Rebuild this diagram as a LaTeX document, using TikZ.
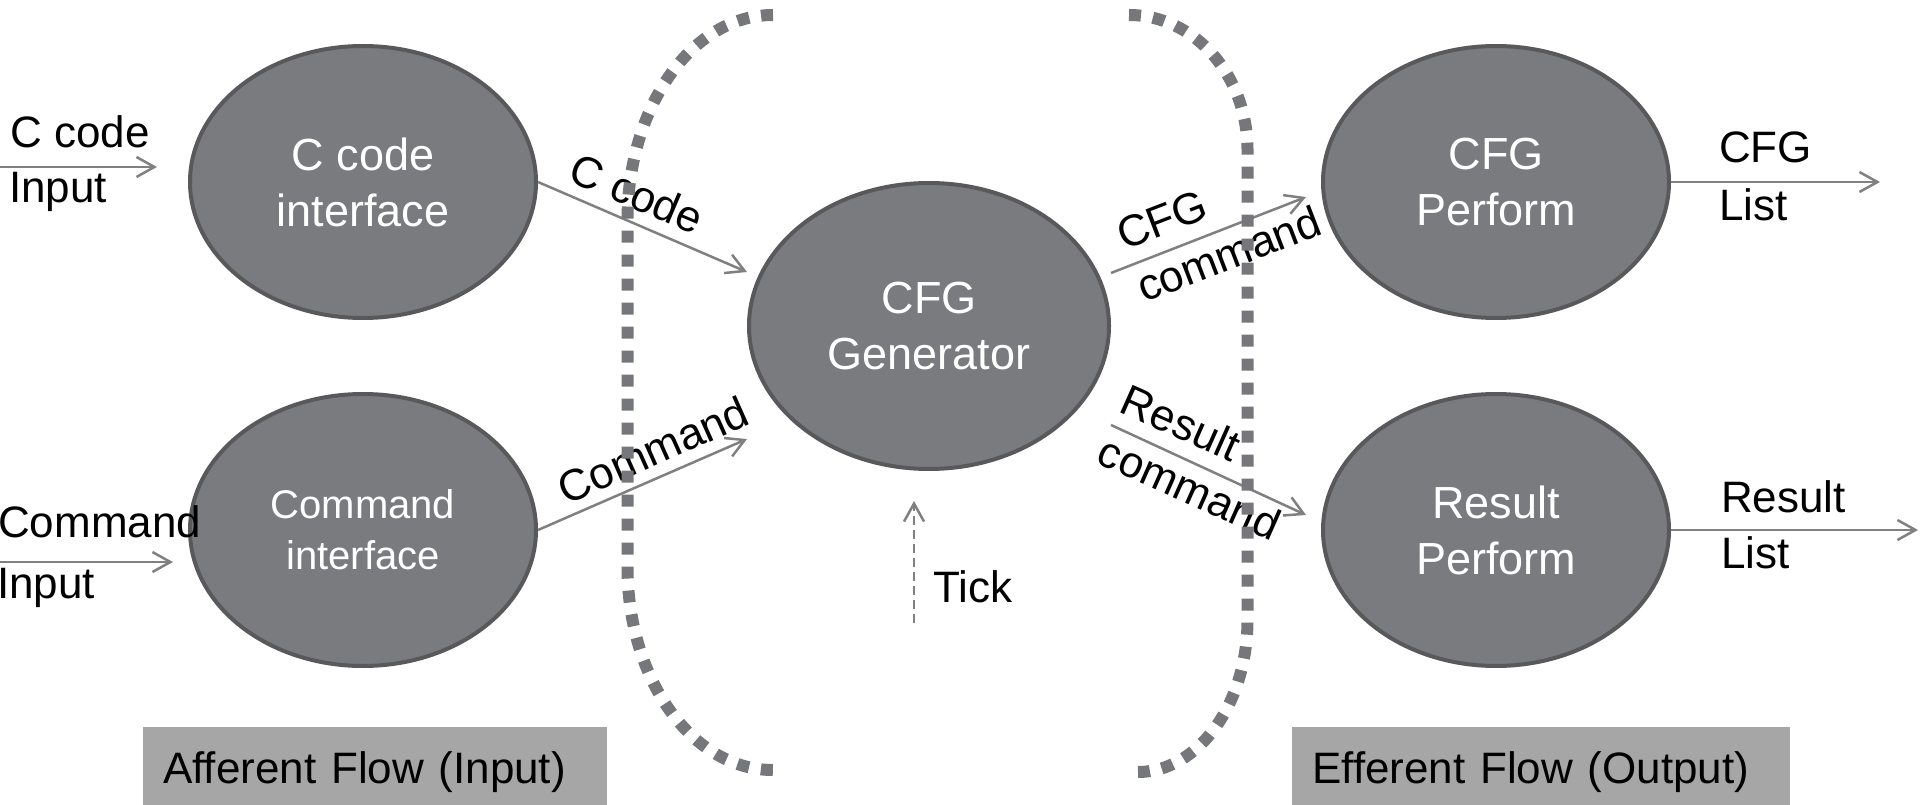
\documentclass[tikz,border=0pt]{standalone}
\usepackage{fontspec}
\setmainfont{Liberation Sans}
\usetikzlibrary{shapes.geometric,arrows.meta}
\definecolor{procfill}{RGB}{122,123,127}
\definecolor{procedge}{RGB}{89,89,91}
\definecolor{wire}{RGB}{128,128,128}
\definecolor{dotcol}{RGB}{118,119,123}
\definecolor{boxfill}{RGB}{166,166,166}
\begin{document}
\begin{tikzpicture}[x=1pt,y=-1pt,
  proc/.style={ellipse, fill=procfill, draw=procedge, line width=4pt, text=white,
    align=center, inner sep=0pt, minimum width=346pt, minimum height=272pt,
    font=\fontsize{45}{56}\selectfont},
  lbl/.style={inner sep=0pt, text=black, font=\fontsize{44}{56}\selectfont},
  flow/.style={draw=wire, line width=2.5pt, -{Straight Barb[length=18pt,width=20pt]}},
  bracket/.style={draw=dotcol, line width=12pt, dash pattern=on 12pt off 12pt},
  legend/.style={fill=boxfill, inner xsep=20pt, inner ysep=0pt, align=left,
    text height=34pt, text depth=0pt, minimum height=78pt, anchor=north west,
    font=\fontsize{44}{56}\selectfont}]
\useasboundingbox (0,0) rectangle (1920,805);

% process bubbles
\node[proc] (cci)  at (363,182)  {C code\\interface};
\node[proc, font=\fontsize{40}{51}\selectfont] (cmi) at (363,530) {Command\\interface};
\node[proc, minimum width=360pt, minimum height=286pt] (gen) at (929,326) {CFG\\Generator};
\node[proc] (cfgp) at (1496,182) {CFG\\Perform};
\node[proc] (rp)   at (1496,530) {Result\\Perform};

% free ends of the outer flows
\coordinate (ccin)  at (0,167);
\coordinate (cmin)  at (0,562);
\coordinate (cfgout) at (1880,182);
\coordinate (rsout)  at (1918,530);
\coordinate (tickfoot) at (914,623);

% flows
\draw[flow] (ccin) -- ([xshift=-31pt,yshift=15pt]cci.west);
\draw[flow] (cmin) -- ([xshift=-15pt,yshift=-32pt]cmi.west);
\draw[flow] (cci.east) -- ([yshift=54pt]gen.west);
\draw[flow] (cmi.east) -- ([yshift=-113pt]gen.west);
\draw[flow] ([yshift=53pt]gen.east) -- ([xshift=-15pt,yshift=-15pt]cfgp.west);
\draw[flow] ([yshift=-99pt]gen.east) -- ([xshift=-15pt,yshift=15pt]rp.west);
\draw[flow] (cfgp.east) -- (cfgout);
\draw[flow] (rp.east) -- (rsout);
\draw[flow, dash pattern=on 9pt off 5pt] (tickfoot) -- ([xshift=-15pt,yshift=-30pt]gen.south);

% outer labels
\node[lbl, anchor=base west] (l1a) at (10,148) {C code};
\node[lbl, anchor=base west] (l1b) at (9,203) {Input};
\node[lbl, anchor=base west] (l2a) at (-2,537) {Command};
\node[lbl, anchor=base west] (l2b) at (-3,598) {Input};
\node[lbl, anchor=base west] (l3a) at (1719,163) {CFG};
\node[lbl, anchor=base west] (l3b) at (1719,221) {List};
\node[lbl, anchor=base west] (l4a) at (1721,512) {Result};
\node[lbl, anchor=base west] (l4b) at (1721,568) {List};
\node[lbl, anchor=base west] (tick) at (933,602) {Tick};

% labels on the inner flows
\node[lbl, rotate=-23] (e1) at (637,193) {C code};
\node[lbl, rotate=24] (e2) at (653,450) {Command};
\node[lbl, rotate=21, align=left] (e3) at (1219,228) {CFG\\command};
\node[lbl, rotate=-24, align=left] (e4) at (1201,462) {Result\\command};

% legends
\node[legend, text width=424pt] (aff) at (143,727) {Afferent Flow (Input)};
\node[legend, text width=458pt] (eff) at (1292,727) {Efferent Flow (Output)};

% dotted brackets round the transform centre
\draw[bracket] (773,15) .. controls (692,15) and (627.5,107) .. (627.5,220)
  -- (627.5,567) .. controls (627.5,679) and (692,770) .. (773,770);
\draw[bracket] (1129,15) .. controls (1194,15) and (1247.5,75) .. (1247.5,150)
  -- (1247.5,620) .. controls (1247.5,704) and (1198,772) .. (1138,772);
\end{tikzpicture}
\end{document}
